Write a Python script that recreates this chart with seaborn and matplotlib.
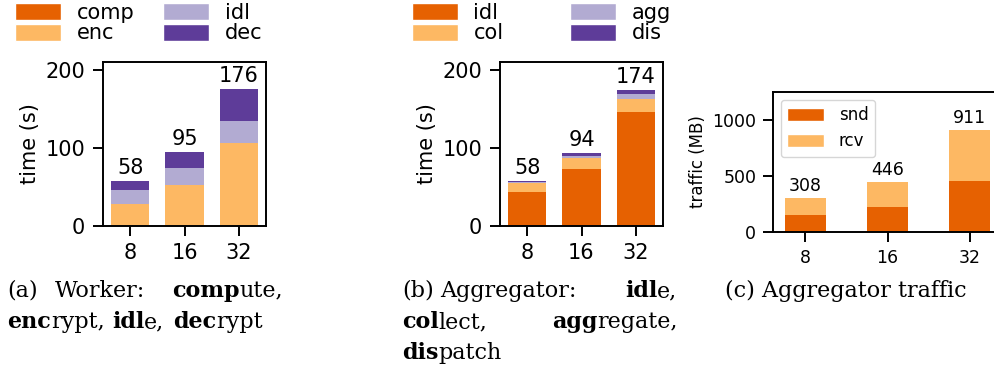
import matplotlib
matplotlib.use("Agg")
import matplotlib.pyplot as plt
import seaborn as sns
import numpy as np
import pandas as pd
from matplotlib.patches import Patch

# ---------------- data ----------------
nodes = ["8", "16", "32"]

# (a) worker breakdown (s)
w_comp = [0.5, 0.5, 0.5]
w_enc = [28, 52, 105.5]
w_idl = [17, 22, 28]
w_dec = [12.5, 20.5, 42]
w_totals = [58, 95, 176]

# (b) aggregator breakdown (s)
g_idl = [43.7, 73, 145.6]
g_col = [11, 14.5, 16.4]
g_agg = [1.5, 2.5, 6.5]
g_dis = [1.8, 4, 5.5]
g_totals = [58, 94, 174]

# (c) aggregator traffic (MB)
t_snd = [154, 223, 455]
t_rcv = [154, 223, 456]
t_totals = [308, 446, 911]

C_DORANGE = "#e66101"
C_LORANGE = "#fdb863"
C_LPURPLE = "#b2abd2"
C_DPURPLE = "#5e3c99"

W, H = 994, 368
sns.set_theme(style="ticks")
plt.rcParams["font.family"] = ["DejaVu Sans"]
plt.rcParams["text.color"] = "black"
plt.rcParams["axes.labelcolor"] = "black"
plt.rcParams["xtick.color"] = "black"
plt.rcParams["ytick.color"] = "black"
plt.rcParams["axes.edgecolor"] = "black"

fig = plt.figure(figsize=(W / 100, H / 100), dpi=100)


def px_axes(left, top, right, bottom):
    return fig.add_axes([left / W, 1 - bottom / H, (right - left) / W, (bottom - top) / H])


def stacked(ax, layers, colors, width):
    cums = np.cumsum(np.array(layers, dtype=float), axis=0)
    for i in range(len(layers) - 1, -1, -1):
        sns.barplot(x=nodes, y=cums[i], color=colors[i], width=width,
                    saturation=1, ax=ax, order=nodes, linewidth=0, edgecolor="none")
    return ax.containers[0]


def style_axes(ax, fs, pad_y=6, pad_x=5):
    for s in ax.spines.values():
        s.set_linewidth(1.4)
        s.set_color("black")
    ax.tick_params(axis="both", length=7, width=1.4, labelsize=fs, colors="black")
    ax.tick_params(axis="y", pad=pad_y)
    ax.tick_params(axis="x", pad=pad_x)


# ---- (a) ----
ax_a = px_axes(103, 62, 266, 226)
top_a = stacked(ax_a, [w_comp, w_enc, w_idl, w_dec],
                [C_DORANGE, C_LORANGE, C_LPURPLE, C_DPURPLE], 0.7)
ax_a.bar_label(top_a, labels=[str(v) for v in w_totals], padding=2, fontsize=15, color="black")
ax_a.set_ylim(0, 210)
ax_a.set_yticks([0, 100, 200])
ax_a.set_xlim(-0.5, 2.5)
ax_a.set_ylabel("time (s)", fontsize=15)
ax_a.set_xlabel("")
style_axes(ax_a, 15)

h_a = [Patch(facecolor=C_DORANGE, label="comp"), Patch(facecolor=C_LORANGE, label="enc"),
       Patch(facecolor=C_LPURPLE, label="idl"), Patch(facecolor=C_DPURPLE, label="dec")]
fig.legend(handles=h_a, loc="upper left", bbox_to_anchor=(15 / W, 1 - 3 / H), ncol=2,
           frameon=False, fontsize=15, handlelength=2.2, handleheight=0.9,
           handletextpad=0.75, columnspacing=1.4, labelspacing=0.02,
           borderpad=0, borderaxespad=0, labelcolor="black")

# ---- (b) ----
ax_b = px_axes(500, 62, 663, 226)
top_b = stacked(ax_b, [g_idl, g_col, g_agg, g_dis],
                [C_DORANGE, C_LORANGE, C_LPURPLE, C_DPURPLE], 0.7)
ax_b.bar_label(top_b, labels=[str(v) for v in g_totals], padding=2, fontsize=15, color="black")
ax_b.set_ylim(0, 210)
ax_b.set_yticks([0, 100, 200])
ax_b.set_xlim(-0.5, 2.5)
ax_b.set_ylabel("time (s)", fontsize=15)
ax_b.set_xlabel("")
style_axes(ax_b, 15)

h_b = [Patch(facecolor=C_DORANGE, label="idl"), Patch(facecolor=C_LORANGE, label="col"),
       Patch(facecolor=C_LPURPLE, label="agg"), Patch(facecolor=C_DPURPLE, label="dis")]
fig.legend(handles=h_b, loc="upper left", bbox_to_anchor=(412 / W, 1 - 3 / H), ncol=2,
           frameon=False, fontsize=15, handlelength=2.2, handleheight=0.9,
           handletextpad=0.75, columnspacing=3.2, labelspacing=0.02,
           borderpad=0, borderaxespad=0, labelcolor="black")

# ---- (c) ----
ax_c = px_axes(773, 92, 1002, 232)
top_c = stacked(ax_c, [t_snd, t_rcv], [C_DORANGE, C_LORANGE], 0.5)
ax_c.bar_label(top_c, labels=[str(v) for v in t_totals], padding=2, fontsize=12.5, color="black")
ax_c.set_ylim(0, 1250)
ax_c.set_yticks([0, 500, 1000])
ax_c.set_xlim(-0.39, 2.39)
ax_c.set_ylabel("traffic (MB)", fontsize=12)
ax_c.set_xlabel("")
style_axes(ax_c, 12.5, pad_y=5, pad_x=5)
h_c = [Patch(facecolor=C_DORANGE, label="snd"), Patch(facecolor=C_LORANGE, label="rcv")]
ax_c.legend(handles=h_c, loc="upper left", fontsize=12, handlelength=2.2,
            handleheight=0.8, labelspacing=0.5, handletextpad=0.9,
            borderaxespad=0.45, fancybox=True, labelcolor="black")

# ---- captions ----
renderer = fig.canvas.get_renderer()
CAP_FS = 16


def runs(x_px, y_px, parts):
    x = x_px
    for s, bold in parts:
        t = fig.text(x / W, 1 - y_px / H, s, fontsize=CAP_FS, family="DejaVu Serif",
                     weight="bold" if bold else "normal", va="baseline", ha="left",
                     color="black")
        bb = t.get_window_extent(renderer)
        x += bb.width


# (a)
runs(7, 297, [("(a)", False)])
runs(55, 297, [("Worker:", False)])
runs(172, 297, [("comp", True), ("ute,", False)])
runs(7, 328, [("enc", True), ("rypt,", False)])
runs(112, 328, [("idl", True), ("e,", False)])
runs(173, 328, [("dec", True), ("rypt", False)])
# (b)
runs(402, 297, [("(b)", False)])
runs(440, 297, [("Aggregator:", False)])
runs(625, 297, [("idl", True), ("e,", False)])
runs(402, 328, [("col", True), ("lect,", False)])
runs(552, 328, [("agg", True), ("regate,", False)])
runs(402, 359, [("dis", True), ("patch", False)])
# (c)
runs(725, 297, [("(c) Aggregator traffic", False)])

fig.savefig("out.png", dpi=100)
